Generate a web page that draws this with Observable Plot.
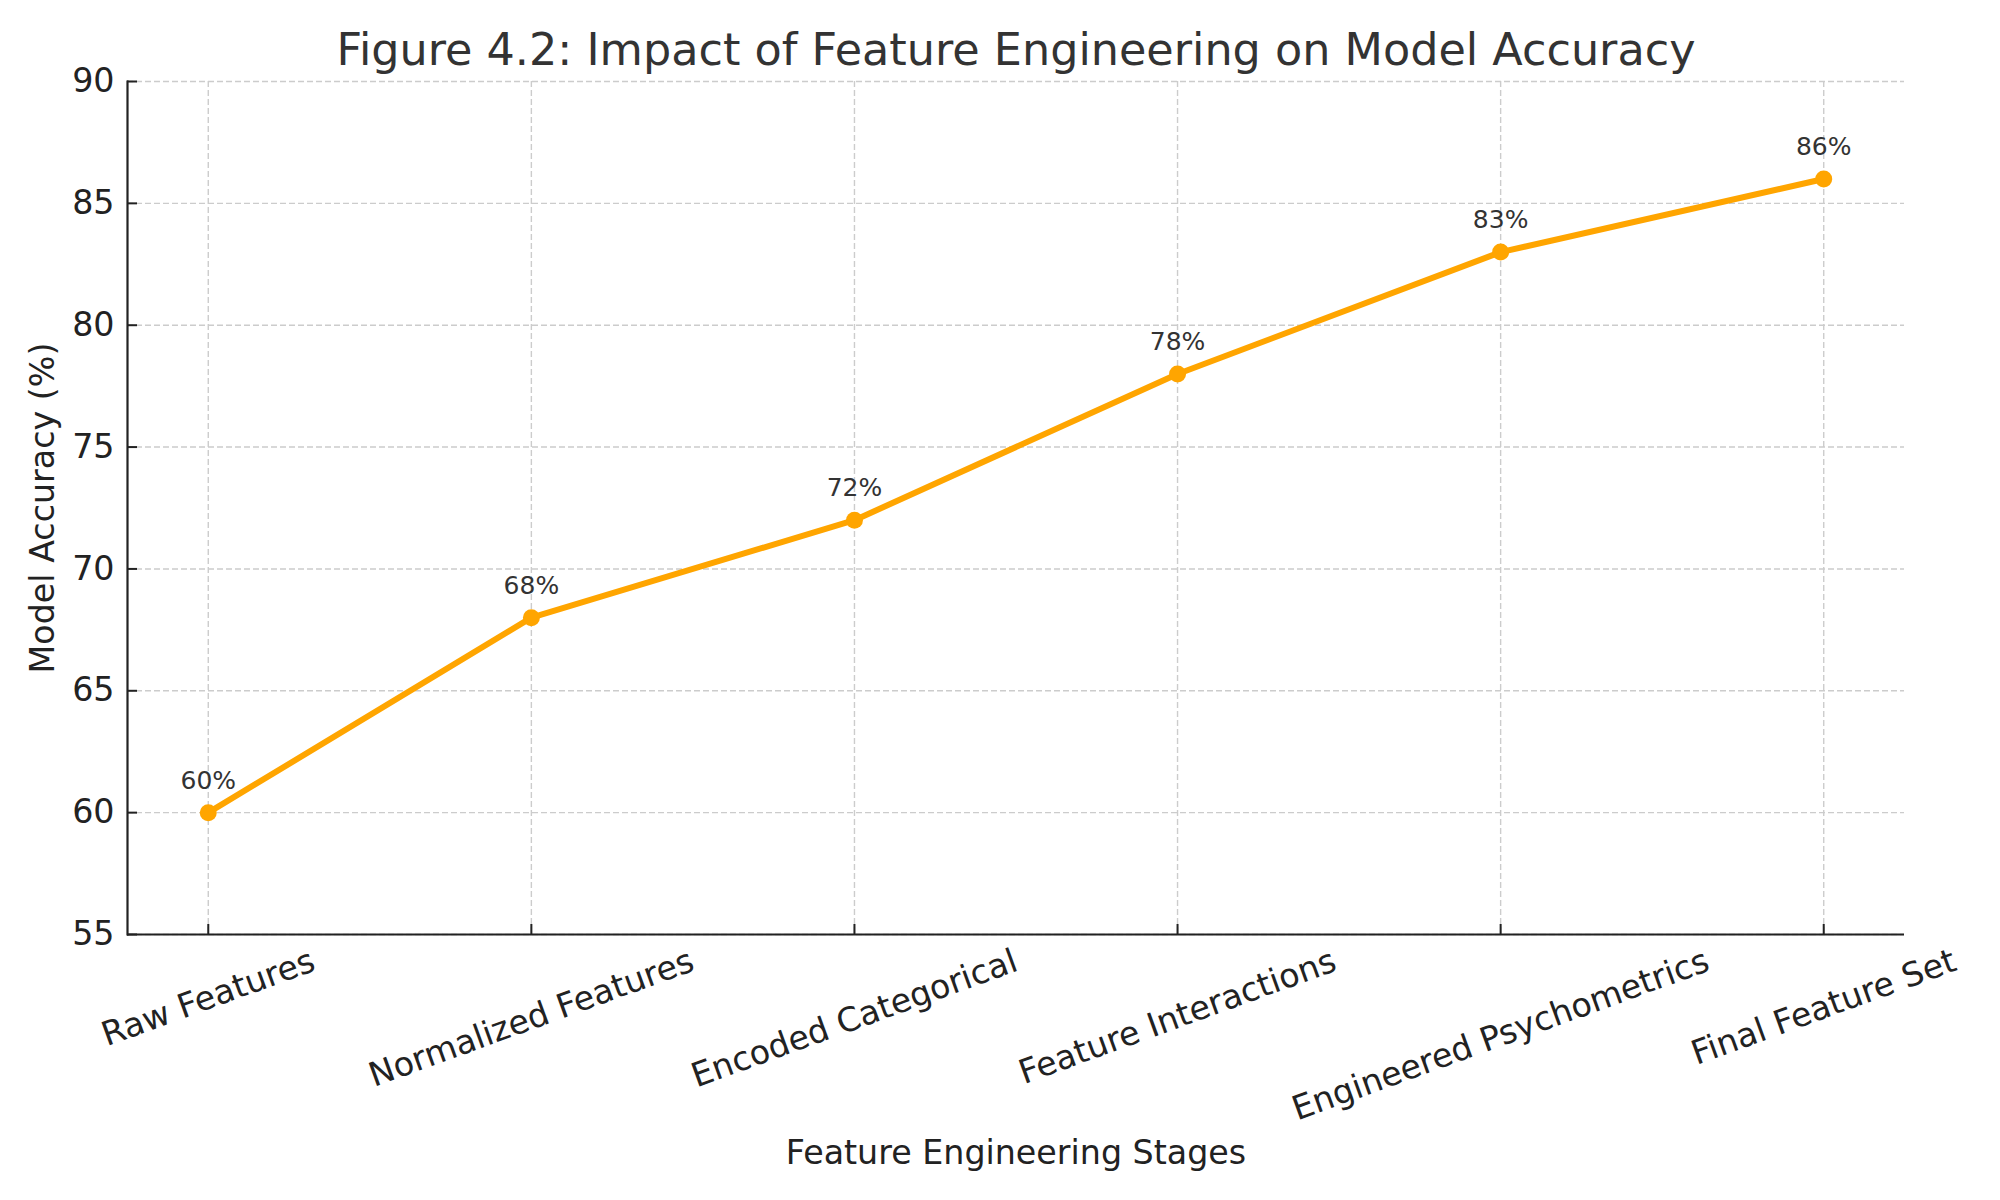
<!DOCTYPE html>
<html>
<head>
<meta charset="utf-8">
<script src="https://cdn.jsdelivr.net/npm/d3@7"></script>
<script src="https://cdn.jsdelivr.net/npm/@observablehq/plot@0.6"></script>
<style>
  html, body { margin: 0; padding: 0; background: white; }
  #chart svg { display: block; }
</style>
</head>
<body>
<div id="chart"></div>
<script>
const titleText = "Figure 4.2: Impact of Feature Engineering on Model Accuracy";
const xLabel = "Feature Engineering Stages";
const yLabel = "Model Accuracy (%)";
const stages = ["Raw Features", "Normalized Features", "Encoded Categorical", "Feature Interactions", "Engineered Psychometrics", "Final Feature Set"];
const accuracy = [60, 68, 72, 78, 83, 86];
const yTicks = [55, 60, 65, 70, 75, 80, 85, 90];
const yDomain = [55, 90];

const data = stages.map((s, i) => ({stage: s, acc: accuracy[i]}));

const W = 2000, H = 1200;
const mL = 127, mR = 96, mT = 81, mB = 266;
const frameW = W - mL - mR, frameH = H - mT - mB;
const FONT = "DejaVu Sans";
const tickFont = 33.3;
const orange = "#FFA500";
const dark = "#222222";

// measure label widths so rotated labels are centred like matplotlib's rotated bbox
const ctx = document.createElement("canvas").getContext("2d");
ctx.font = `${tickFont}px "${FONT}"`;
const angle = 20;
const rot = angle * Math.PI / 180;
const lineH = tickFont * 1.17;
const xLabelMarks = stages.map(s => {
  const w = ctx.measureText(s).width;
  const bh = w * Math.sin(rot) + lineH * Math.cos(rot);
  return Plot.text([s], {
    x: d => d, frameAnchor: "bottom", dy: 7 + bh / 2,
    rotate: -angle, textAnchor: "middle", lineAnchor: "middle",
    fontSize: tickFont, fill: dark
  });
});

const chart = Plot.plot({
  width: W, height: H,
  marginLeft: mL, marginRight: mR, marginTop: mT, marginBottom: mB,
  style: {fontFamily: FONT, background: "white", color: dark},
  x: {type: "point", domain: stages, padding: 0.25, round: false, axis: null},
  y: {domain: yDomain, axis: null},
  marks: [
    Plot.gridY(yTicks, {stroke: "#cccccc", strokeOpacity: 1, strokeWidth: 1.4, strokeDasharray: "6,3"}),
    Plot.gridX(stages, {stroke: "#cccccc", strokeOpacity: 1, strokeWidth: 1.4, strokeDasharray: "6,3"}),
    Plot.frame({anchor: "left", stroke: dark, strokeWidth: 2.2}),
    Plot.ruleY([yDomain[0]], {stroke: dark, strokeWidth: 2.2}),
    Plot.tickY(yTicks, {y: d => d, stroke: dark, strokeWidth: 2, insetRight: frameW - 10}),
    Plot.tickX(stages, {x: d => d, stroke: dark, strokeWidth: 2, insetTop: frameH - 10}),
    Plot.axisY(yTicks, {tickSize: 0, tickPadding: 13, fontSize: tickFont, label: null, fill: dark}),
    ...xLabelMarks,
    Plot.line(data, {x: "stage", y: "acc", stroke: orange, strokeWidth: 6}),
    Plot.dot(data, {x: "stage", y: "acc", r: 8.5, fill: orange, stroke: null}),
    Plot.text(data, {x: "stage", y: "acc", text: d => `${d.acc}%`, dy: -24, lineAnchor: "bottom", fontSize: 25, fill: "#333333"}),
    Plot.text([titleText], {frameAnchor: "top", dy: -17, lineAnchor: "bottom", textAnchor: "middle", fontSize: 44.5, fill: "#333333"}),
    Plot.text([xLabel], {frameAnchor: "bottom", dy: 229, lineAnchor: "bottom", textAnchor: "middle", fontSize: 33.3, fill: dark}),
    Plot.text([yLabel], {frameAnchor: "left", dx: -84, rotate: -90, lineAnchor: "middle", textAnchor: "middle", fontSize: 33.3, fill: dark})
  ]
});
document.getElementById("chart").appendChild(chart);
</script>
</body>
</html>
